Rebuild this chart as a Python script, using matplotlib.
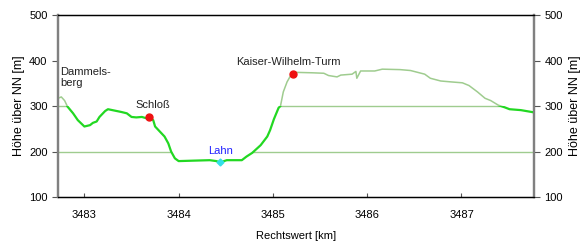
import numpy as np
import matplotlib
matplotlib.use('Agg')
import matplotlib.pyplot as plt
from matplotlib.patches import Polygon, Rectangle

plt.rcParams['font.family'] = ['Liberation Sans', 'DejaVu Sans']
plt.rcParams['font.size'] = 8

# profile: Rechtswert [km], Hoehe [m]
km = np.array([3482.72, 3482.755, 3482.79, 3482.82, 3482.88, 3482.93, 3483.00, 3483.06,
               3483.09, 3483.13, 3483.16, 3483.22, 3483.25, 3483.32, 3483.39, 3483.45,
               3483.50, 3483.55, 3483.61, 3483.66, 3483.69, 3483.73, 3483.75, 3483.80,
               3483.85, 3483.89, 3483.92, 3483.96, 3484.00, 3484.16, 3484.33, 3484.40,
               3484.44, 3484.51, 3484.67, 3484.72, 3484.78, 3484.87, 3484.94, 3484.97,
               3485.01, 3485.06, 3485.08, 3485.11, 3485.15, 3485.18, 3485.21, 3485.24,
               3485.42, 3485.54, 3485.59, 3485.68, 3485.72, 3485.84, 3485.88, 3485.89,
               3485.93, 3486.08, 3486.16, 3486.35, 3486.46, 3486.61, 3486.67, 3486.78,
               3486.89, 3487.01, 3487.08, 3487.17, 3487.25, 3487.31, 3487.39, 3487.46,
               3487.51, 3487.63, 3487.77])
hoehe = np.array([317, 320, 312, 299, 284, 269, 255, 258,
                  263, 266, 276, 289, 293, 290, 287, 284,
                  276, 275, 276, 273, 275, 269, 255, 244,
                  233, 218, 200, 185, 179, 180, 181, 179,
                  176, 181, 181, 189, 197, 214, 233, 247,
                  271, 296, 300, 331, 353, 364, 370, 374,
                  373, 372, 367, 364, 368, 370, 376, 361,
                  377, 377, 381, 380, 378, 370, 361, 355,
                  353, 351, 345, 331, 317, 312, 302, 297,
                  293, 291, 286])

# points of interest
orte = ['Schloß', 'Kaiser-Wilhelm-Turm']
orte_km = [3483.69, 3485.21]
orte_h = [276, 370]
lahn_km = 3484.44
lahn_h = 177

x0, x1 = 3482.72, 3487.77
y0, y1 = 100, 500

bright = '#22d822'
light = '#9fcc8f'

fig = plt.figure(figsize=(5.87, 2.46), dpi=100)
ax = fig.add_axes([0.0988, 0.199, 0.811, 0.740])
ax.set_xlim(x0, x1)
ax.set_ylim(y0, y1)

# terrain polygon, used to clip the level lines
terrain = Polygon(np.column_stack([np.r_[km, km[-1], km[0]],
                                   np.r_[hoehe, y0, y0]]),
                  closed=True, transform=ax.transData, facecolor='none', edgecolor='none')
ax.add_patch(terrain)

for lvl in [200, 300]:
    l, = ax.plot([x0, x1], [lvl, lvl], color=light, lw=1.0, zorder=2)
    l.set_clip_path(terrain)

# profile: bright below 300 m, thin light above
low = Rectangle((x0, y0), x1 - x0, 300 - y0, transform=ax.transData)
high = Rectangle((x0, 300), x1 - x0, y1 - 300, transform=ax.transData)
l1, = ax.plot(km, hoehe, color=bright, lw=1.6, zorder=3)
l1.set_clip_path(low)
l2, = ax.plot(km, hoehe, color=light, lw=1.1, zorder=3)
l2.set_clip_path(high)

ax.plot(orte_km, orte_h, 'o', color='#ee1111', ms=5, zorder=4)
ax.plot([lahn_km], [lahn_h], 'D', color='#33e0e8', ms=3.5, zorder=4)

ax.text(3482.745, 386, 'Dammels-\nberg', ha='left', va='top', color='#222222', linespacing=1.2)
ax.text(3483.73, 291, orte[0], ha='center', va='bottom', color='#222222')
ax.text(3485.16, 385, orte[1], ha='center', va='bottom', color='#222222')
ax.text(lahn_km, 191, 'Lahn', ha='center', va='bottom', color='#2222ff')

ax.set_xticks([3483, 3484, 3485, 3486, 3487])
ax.set_xticklabels(['3483', '3484', '3485', '3486', '3487'])
ax.set_yticks([100, 200, 300, 400, 500])
ax.tick_params(axis='x', direction='in', length=3, pad=9, color='#555555')
ax.tick_params(axis='y', direction='out', length=4, color='#555555')
ax.set_xlabel('Rechtswert [km]', labelpad=8)
ax.set_ylabel('Höhe über NN [m]', labelpad=3, fontsize=9)

ax2 = ax.twinx()
ax2.set_ylim(y0, y1)
ax2.set_yticks([100, 200, 300, 400, 500])
ax2.tick_params(axis='y', direction='out', length=4, color='#555555')
ax2.set_ylabel('Höhe über NN [m]', labelpad=4, fontsize=9)

for a in (ax, ax2):
    a.spines['left'].set_color('#808080')
    a.spines['left'].set_linewidth(1.6)
    a.spines['right'].set_color('#808080')
    a.spines['right'].set_linewidth(1.6)
    a.spines['top'].set_linewidth(0.9)
    a.spines['bottom'].set_linewidth(0.9)

fig.savefig('out.png', dpi=100)
